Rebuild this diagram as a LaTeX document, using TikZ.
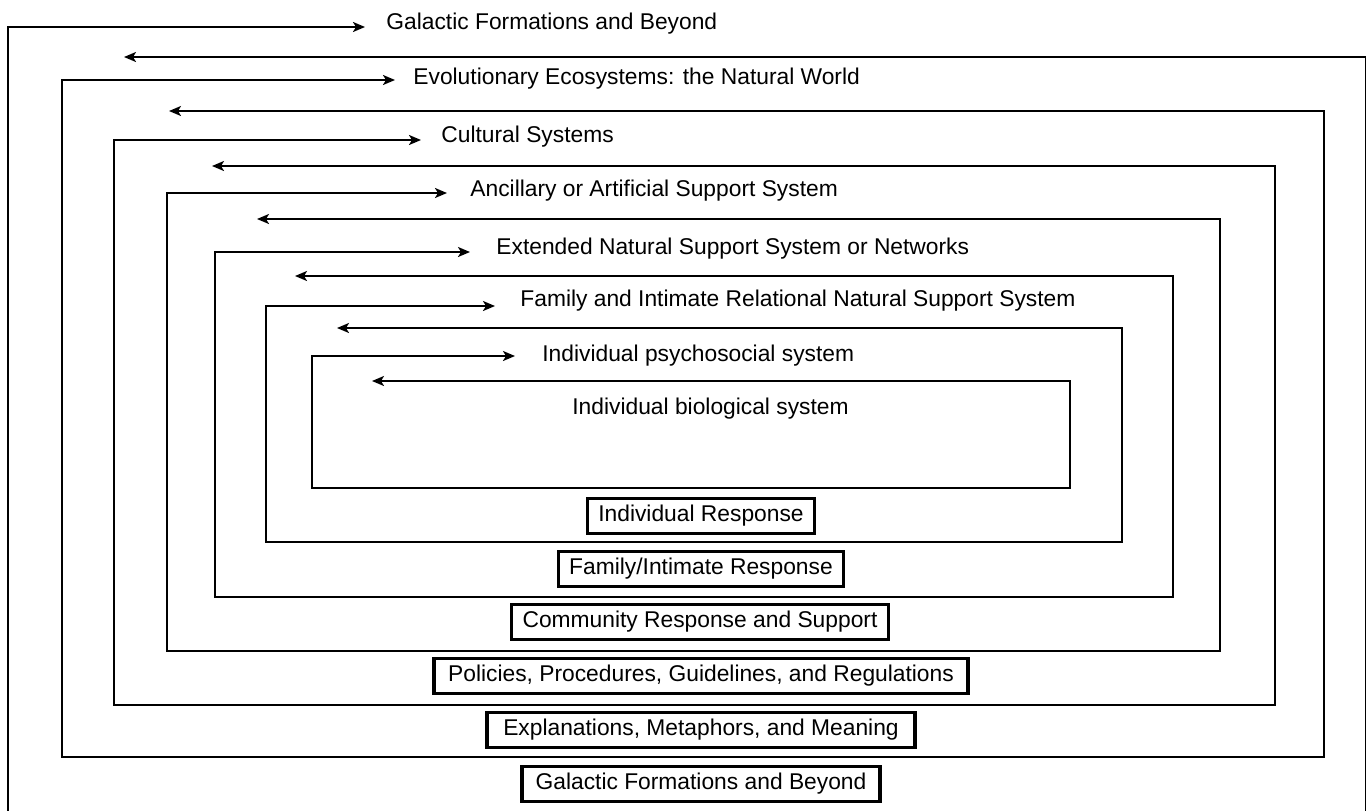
\documentclass[tikz,border=0pt]{standalone}
\usepackage{fontspec}
\setmainfont{Liberation Sans}
\usetikzlibrary{arrows.meta}

\tikzset{
  frame/.style={line width=1pt,{Stealth[length=6pt,width=5pt,inset=1.5pt]}-{Stealth[length=6pt,width=5pt,inset=1.5pt]}},
  lbl/.style={anchor=base west,inner sep=0pt,font=\fontsize{11.4}{13}\selectfont},
  resp/.style={draw,line width=1.7pt,inner xsep=5.5pt,inner ysep=0pt,minimum height=17.5pt,font=\fontsize{11.4}{13}\selectfont}
}

\begin{document}
\begin{tikzpicture}[x=0.5pt,y=-0.5pt]
	\useasboundingbox (0,0) rectangle (1366,810);

	% nested frames, outside in
	\draw[frame] (365,27) -- (8,27) -- (8,814) -- (1366,814) -- (1366,57) -- (124,57);
	\draw[frame] (395,80) -- (62,80) -- (62,757) -- (1324,757) -- (1324,111) -- (169,111);
	\draw[frame] (421,140) -- (114,140) -- (114,705) -- (1275,705) -- (1275,166) -- (212,166);
	\draw[frame] (447,193) -- (167,193) -- (167,651) -- (1220,651) -- (1220,219) -- (257,219);
	\draw[frame] (470,252) -- (215,252) -- (215,597) -- (1173,597) -- (1173,276) -- (295,276);
	\draw[frame] (495,306) -- (266,306) -- (266,542) -- (1122,542) -- (1122,328) -- (337,328);
	\draw[frame] (515,356) -- (312,356) -- (312,488) -- (1070,488) -- (1070,381) -- (372,381);

	% system labels
	\node[lbl] (galaxy) at (386,29) {Galactic Formations and Beyond};
	\node[lbl] (eco) at (413,84) {Evolutionary Ecosystems: the Natural World};
	\node[lbl] (culture) at (441,142) {Cultural Systems};
	\node[lbl] (ancillary) at (470,196) {Ancillary or Artificial Support System};
	\node[lbl] (extended) at (496,254) {Extended Natural Support System or Networks};
	\node[lbl] (family) at (520,306) {Family and Intimate Relational Natural Support System};
	\node[lbl] (psycho) at (542,361) {Individual psychosocial system};
	\node[lbl] (bio) at (572,414) {Individual biological system};

	% response boxes
	\node[resp] (rindiv) at (701,516) {Individual Response};
	\node[resp] (rfamily) at (701,569) {Family/Intimate Response};
	\node[resp] (rcommunity) at (700,622) {Community Response and Support};
	\node[resp,minimum width=267pt] (rpolicy) at (701,676) {Policies, Procedures, Guidelines, and Regulations};
	\node[resp,minimum width=214pt] (rmeaning) at (701,730) {Explanations, Metaphors, and Meaning};
	\node[resp,minimum width=179pt] (rgalaxy) at (701,784) {Galactic Formations and Beyond};
\end{tikzpicture}
\end{document}
